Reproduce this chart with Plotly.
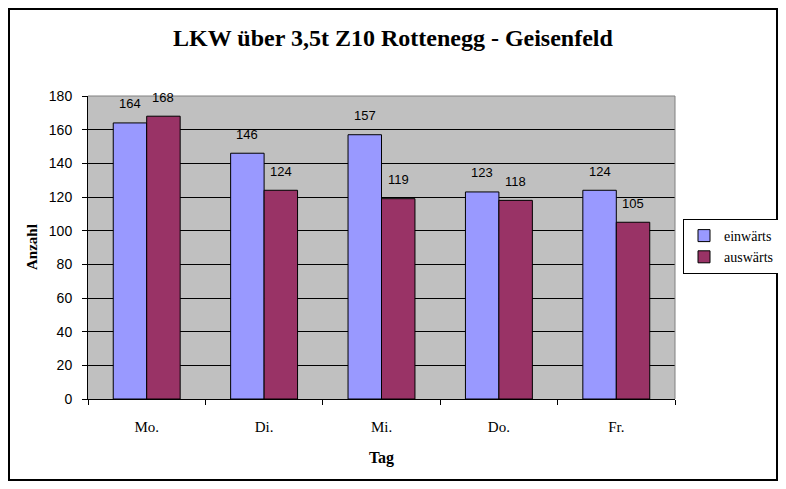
import plotly.graph_objects as go

tage = ["Mo.", "Di.", "Mi.", "Do.", "Fr."]
einwaerts = [164, 146, 157, 123, 124]
auswaerts = [168, 124, 119, 118, 105]

fig = go.Figure()
fig.add_trace(go.Bar(x=tage, y=einwaerts, name="einwärts",
                     marker=dict(color="#9999FF", line=dict(color="black", width=1))))
fig.add_trace(go.Bar(x=tage, y=auswaerts, name="auswärts",
                     marker=dict(color="#993366", line=dict(color="black", width=1))))

# value labels above the bars
for vals, shift in [(einwaerts, -16.7), (auswaerts, 16.7)]:
    for t, v in zip(tage, vals):
        fig.add_annotation(x=t, y=v, text=str(v), showarrow=False,
                           xshift=shift, yshift=19, yanchor="middle",
                           font=dict(family="Liberation Sans", size=13, color="black"))

# y axis title as annotation so its distance is fixed
fig.add_annotation(xref="paper", yref="paper", x=-56 / 587, y=152 / 303,
                   text="<b>Anzahl</b>", textangle=-90, showarrow=False,
                   xanchor="center", yanchor="middle",
                   font=dict(family="Liberation Serif", size=15, color="black"))

# figure is a bit smaller than the window: the page body keeps its 8px margin
fig.update_layout(
    width=770, height=473,
    margin=dict(l=80, r=103, t=88, b=82),
    paper_bgcolor="white", plot_bgcolor="#C0C0C0",
    barmode="group", bargap=0.43, bargroupgap=0,
    title=dict(text="<b>LKW über 3,5t Z10 Rottenegg - Geisenfeld</b>",
               x=0.5, xanchor="center", y=0.9366, yanchor="middle",
               font=dict(family="Liberation Serif", size=24, color="black")),
    font=dict(family="Liberation Serif", size=13, color="black"),
    legend=dict(xref="container", yref="container",
                x=675 / 770, xanchor="left", y=1 - 238.5 / 473, yanchor="middle",
                itemwidth=30, tracegroupgap=0,
                bordercolor="black", borderwidth=1, bgcolor="white",
                font=dict(family="Liberation Serif", size=14)),
    showlegend=True,
)
fig.update_xaxes(title=dict(text="<b>Tag</b>", font=dict(size=16), standoff=17),
                 tickson="boundaries", ticks="outside", ticklen=5, tickcolor="black",
                 ticklabelstandoff=14, automargin=False,
                 showline=True, linecolor="black", linewidth=1, showgrid=False,
                 tickfont=dict(family="Liberation Serif", size=15))
fig.update_yaxes(range=[0, 180], dtick=20, ticks="outside", ticklen=5, tickcolor="black",
                 ticklabelstandoff=7, automargin=False,
                 showline=True, linecolor="black", linewidth=1,
                 gridcolor="black", gridwidth=1, zeroline=False,
                 tickfont=dict(family="Liberation Sans", size=14))
fig.add_shape(type="line", xref="paper", yref="paper", x0=0, x1=1, y0=1, y1=1,
              line=dict(color="#808080", width=1))
fig.add_shape(type="line", xref="paper", yref="paper", x0=1, x1=1, y0=0, y1=1,
              line=dict(color="#808080", width=1))
fig.add_shape(type="rect", xref="paper", yref="paper",
              x0=-79 / 587, x1=689 / 587, y0=-81 / 303, y1=390 / 303,
              line=dict(color="black", width=2))
fig.write_html("out.html")
